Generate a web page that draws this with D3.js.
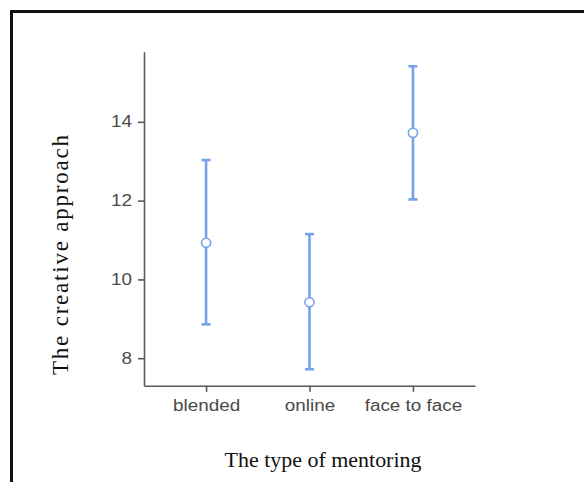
<!DOCTYPE html>
<html>
<head>
<meta charset="utf-8">
<script src="https://cdn.jsdelivr.net/npm/d3@7"></script>
<style>
  html, body { margin: 0; padding: 0; background: #fff; }
  svg { display: block; }
</style>
</head>
<body>
<svg id="chart" width="584" height="482"></svg>
<script>
// Mentoring groups and their mean creative-approach score with interval bounds
const categories = ["blended", "online", "face to face"];
const means = [10.93, 9.42, 13.72];
const lower = [8.86, 7.72, 12.03];
const upper = [13.03, 11.15, 15.41];
const yTicks = [8, 10, 12, 14];

const svg = d3.select("#chart");
const blue = "#74a3ea";
const axisGray = "#5a5a5a";
const stretch = 1.18;

// Frame around the figure (top and left edges)
svg.append("path")
  .attr("d", "M11.5,482 V11.5 H584")
  .attr("fill", "none")
  .attr("stroke", "#111")
  .attr("stroke-width", 3);

const x = d3.scalePoint().domain(categories).range([144, 475]).padding(0.6);
const y = d3.scaleLinear().domain([7.3, 15.78]).range([385.8, 51.7]);

function styleAxis(g) {
  g.select(".domain").attr("stroke", axisGray).attr("stroke-width", 1.6);
  g.selectAll(".tick line").attr("stroke", axisGray).attr("stroke-width", 1.6);
  g.selectAll(".tick text")
    .attr("fill", "#4a4a4a")
    .style("font-family", "'Liberation Sans', Arial, sans-serif")
    .style("font-size", "16px")
    .each(function () {
      const w = this.getComputedTextLength();
      d3.select(this).attr("textLength", w * stretch).attr("lengthAdjust", "spacingAndGlyphs");
    });
}

// Y axis
const gy = svg.append("g")
  .attr("transform", "translate(144,0)")
  .call(d3.axisLeft(y).tickValues(yTicks).tickFormat(d3.format("d")).tickSize(6).tickPadding(6).tickSizeOuter(0));
styleAxis(gy);

// X axis
const gx = svg.append("g")
  .attr("transform", `translate(0,${y.range()[0]})`)
  .call(d3.axisBottom(x).tickSize(6).tickPadding(8).tickSizeOuter(0));
styleAxis(gx);

// Error bars
const rows = categories.map((c, i) => ({ c, m: means[i], lo: lower[i], hi: upper[i] }));
const bars = svg.append("g").selectAll("g").data(rows).join("g");
bars.append("line")
  .attr("x1", d => x(d.c)).attr("x2", d => x(d.c))
  .attr("y1", d => y(d.lo)).attr("y2", d => y(d.hi))
  .attr("stroke", blue).attr("stroke-width", 2.6);
["lo", "hi"].forEach(k => {
  bars.append("line")
    .attr("x1", d => x(d.c) - 4.5).attr("x2", d => x(d.c) + 4.5)
    .attr("y1", d => y(d[k])).attr("y2", d => y(d[k]))
    .attr("stroke", blue).attr("stroke-width", 2.6);
});
bars.append("circle")
  .attr("cx", d => x(d.c)).attr("cy", d => y(d.m))
  .attr("r", 4.6)
  .attr("fill", "#fff")
  .attr("stroke", blue).attr("stroke-width", 1.6);

// Axis titles
svg.append("text")
  .attr("x", 323).attr("y", 467)
  .attr("text-anchor", "middle")
  .attr("textLength", 197).attr("lengthAdjust", "spacingAndGlyphs")
  .style("font-family", "'Liberation Serif', 'Times New Roman', serif")
  .style("font-size", "22px")
  .attr("fill", "#111")
  .text("The type of mentoring");

svg.append("text")
  .attr("transform", "translate(68,255) rotate(-90)")
  .attr("text-anchor", "middle")
  .attr("textLength", 240).attr("lengthAdjust", "spacing")
  .style("font-family", "'Liberation Serif', 'Times New Roman', serif")
  .style("font-size", "23px")
  .attr("fill", "#111")
  .text("The creative approach");
</script>
</body>
</html>
